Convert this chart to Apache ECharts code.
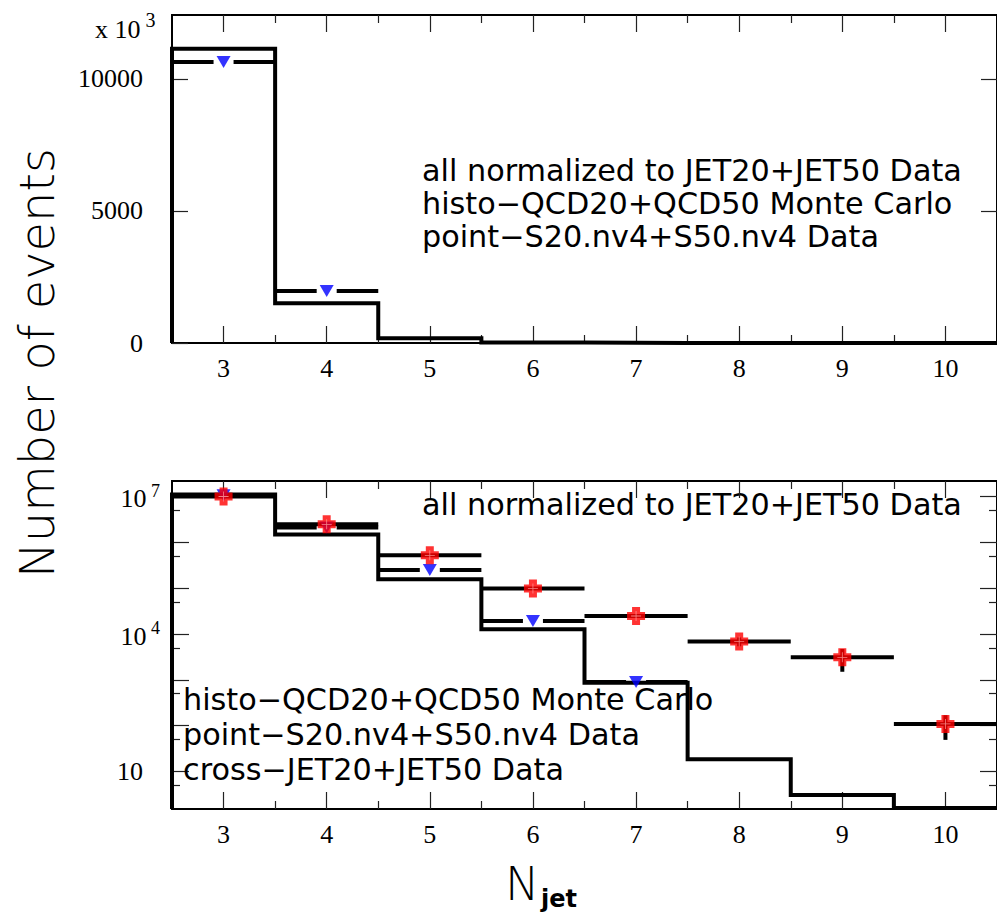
<!DOCTYPE html>
<html><head><meta charset="utf-8">
<script src="https://cdn.jsdelivr.net/npm/echarts@6/dist/echarts.min.js"></script>
<style>html,body{margin:0;padding:0;background:#fff}#c{width:997px;height:920px}</style>
</head><body><div id="c"></div>
<script>
// ---------------- data ----------------
const nJet = [3, 4, 5, 6, 7, 8, 9, 10];
const xTickLabels = ['3', '4', '5', '6', '7', '8', '9', '10'];
const halfTicks = [3.5, 4.5, 5.5, 6.5, 7.5, 8.5, 9.5];
// top panel (linear, in units of 10^3 events)
const mcTop  = [11150, 1505, 180, 15, 1, 0.02, 0.003, 0.001];
const s20Top = [10640, 1970, null, null, null, null, null, null];
const linTicks = [0, 5000, 10000];
// bottom panel (log scale)
const mcLog  = [1.1e7, 1.48e6, 1.56e5, 1.27e4, 865, 18.5, 3.07, 1.6];
const s20Log = [1.06e7, 2.1e6, 2.49e5, 1.92e4, 900, null, null, null];
const jetLog = [1.0e7, 2.47e6, 5.2e5, 9.9e4, 2.47e4, 6.9e3, 3.1e3, 109];
const jetErr = [3e4, 1.5e4, 7e3, 3e3, 1.5e3, 1.5e3, 1600, 60];
const logMajor = [10, 100, 1e3, 1e4, 1e5, 1e6, 1e7];
const logMinor = [5, 50, 500, 5e3, 5e4, 5e5, 5e6];
const logLabels = [10, 1e4, 1e7];
const legendTop = ['all normalized to JET20+JET50 Data', 'histo\u2212QCD20+QCD50 Monte Carlo', 'point\u2212S20.nv4+S50.nv4 Data'];
const legendBot1 = 'all normalized to JET20+JET50 Data';
const legendBot2 = ['histo\u2212QCD20+QCD50 Monte Carlo', 'point\u2212S20.nv4+S50.nv4 Data', 'cross\u2212JET20+JET50 Data'];

// ---------------- helpers ----------------
const SANS = "'DejaVu Sans'";
const SERIF = "'Liberation Serif'";
function fitSize(text, family, weight, target) {
  const ctx = document.createElement('canvas').getContext('2d');
  ctx.font = weight + ' 100px ' + family;
  return 100 * target / ctx.measureText(text).width;
}
const legSize = fitSize(legendTop[0], SANS, 'normal', 540);
const titleSize = fitSize('Number of events', SANS, 300, 430);

const X0 = 2.5, X1 = 10.5;
const LIN_MAX = 12424;
const LOG_MIN = 1.52, LOG_MAX = 2.18e7;
const tickStyle = {color: '#222', width: 1.2};
const axLine = {show: true, onZero: false, lineStyle: {color: '#000', width: 2}};
const LBL = 26;

function xAx(grid, pos, ticks, len, withLabels) {
  return {
    type: 'value', gridIndex: grid, position: pos, min: X0, max: X1,
    axisLine: axLine,
    axisTick: {show: true, inside: true, length: len, customValues: ticks, lineStyle: tickStyle},
    axisLabel: withLabels ? {show: true, customValues: nJet, margin: 12,
      formatter: v => xTickLabels[nJet.indexOf(v)],
      fontFamily: SERIF, fontSize: LBL, color: '#000'} : {show: false},
    splitLine: {show: false}
  };
}
const supRich = {
  b: {fontFamily: SERIF, fontSize: LBL, color: '#000', verticalAlign: 'bottom'},
  s: {fontFamily: SERIF, fontSize: 18, color: '#000', verticalAlign: 'bottom', padding: [0, 0, 12, 0]},
  t: {fontFamily: SERIF, fontSize: 20, color: '#000', verticalAlign: 'bottom', padding: [0, 0, 13, 0]},
  p: {fontFamily: SERIF, fontSize: LBL, color: '#000', verticalAlign: 'bottom', padding: [0, 17, 0, 0]}
};
function yAx(grid, pos, type, min, max, ticks, len, labelVals, fmt, margin) {
  const a = {
    type: type, gridIndex: grid, position: pos, min: min, max: max,
    axisLine: axLine,
    axisTick: {show: true, inside: true, length: len, customValues: ticks, lineStyle: tickStyle},
    axisLabel: labelVals ? {show: true, customValues: labelVals, margin: margin, formatter: fmt,
      fontFamily: SERIF, fontSize: LBL, color: '#000', rich: supRich} : {show: false},
    splitLine: {show: false}
  };
  if (type === 'log') a.logBase = 10;
  return a;
}

function stepData(vals, base) {
  const pts = [[nJet[0] - 0.5, base]];
  nJet.forEach((n, i) => pts.push([n - 0.5, vals[i]]));
  pts.push([nJet[nJet.length - 1] + 0.5, vals[vals.length - 1]]);
  return pts;
}
function pointData(vals, errs) {
  const out = [];
  nJet.forEach((n, i) => { if (vals[i] != null) out.push(errs ? [n, vals[i], errs[i]] : [n, vals[i]]); });
  return out;
}
function barsRender(gapPx, withErr) {
  return function (params, api) {
    const x = api.value(0), y = api.value(1);
    const c = api.coord([x, y]);
    const l = api.coord([x - 0.5, y]), r = api.coord([x + 0.5, y]);
    const style = {stroke: '#000', lineWidth: 4, lineCap: 'butt', fill: null};
    const ch = [];
    if (gapPx > 0) {
      ch.push({type: 'line', shape: {x1: l[0], y1: l[1], x2: c[0] - gapPx, y2: c[1]}, style: style});
      ch.push({type: 'line', shape: {x1: c[0] + gapPx, y1: c[1], x2: r[0], y2: r[1]}, style: style});
    } else {
      ch.push({type: 'line', shape: {x1: l[0], y1: l[1], x2: r[0], y2: r[1]}, style: style});
    }
    if (withErr) {
      const e = api.value(2);
      const lo = api.coord([x, Math.max(y - e, LOG_MIN)]), hi = api.coord([x, y + e]);
      ch.push({type: 'line', shape: {x1: lo[0], y1: lo[1], x2: hi[0], y2: hi[1]}, style: style});
    }
    return {type: 'group', children: ch};
  };
}
const stepStyle = {color: '#000', width: 4, cap: 'butt', join: 'miter'};
const TRI = {symbol: 'triangle', symbolRotate: 180, symbolSize: [14, 12], itemStyle: {color: '#0000ff'}};
const CROSS = 'path://M5,0H13V5H18V13H13V18H5V13H0V5H5Z';
const INNER = 'path://M0,4.6H10V5.4H0Z M4.6,0H5.4V10H4.6Z';

const logFmt = v => {
  const e = Math.round(Math.log10(v));
  return e === 1 ? '{p|10}' : '{b|10}{s| ' + e + '}';
};

const option = {
  animation: false,
  backgroundColor: '#fff',
  grid: [
    {left: 172, top: 15, width: 826, height: 328, show: false},
    {left: 172, top: 481, width: 826, height: 328, show: false}
  ],
  xAxis: [
    xAx(0, 'bottom', nJet, 17, true), xAx(0, 'bottom', halfTicks, 8, false),
    xAx(0, 'top', nJet, 17, false), xAx(0, 'top', halfTicks, 8, false),
    xAx(1, 'bottom', nJet, 17, true), xAx(1, 'bottom', halfTicks, 8, false),
    xAx(1, 'top', nJet, 17, false), xAx(1, 'top', halfTicks, 8, false)
  ],
  yAxis: [
    yAx(0, 'left', 'value', 0, LIN_MAX, linTicks, 16, linTicks, v => String(v), 29),
    yAx(0, 'right', 'value', 0, LIN_MAX, linTicks, 16, null),
    yAx(1, 'left', 'log', LOG_MIN, LOG_MAX, logMajor, 17, logLabels, logFmt, 12),
    yAx(1, 'left', 'log', LOG_MIN, LOG_MAX, logMinor, 8, null),
    yAx(1, 'right', 'log', LOG_MIN, LOG_MAX, logMajor, 17, null),
    yAx(1, 'right', 'log', LOG_MIN, LOG_MAX, logMinor, 8, null)
  ],
  series: [
    // top panel
    {type: 'line', xAxisIndex: 0, yAxisIndex: 0, step: 'end', symbol: 'none', clip: false,
      data: stepData(mcTop, 0), lineStyle: stepStyle, z: 3},
    {type: 'custom', xAxisIndex: 0, yAxisIndex: 0, data: pointData(s20Top), encode: {x: 0, y: 1},
      renderItem: barsRender(10, false), z: 4},
    Object.assign({type: 'scatter', xAxisIndex: 0, yAxisIndex: 0, data: pointData(s20Top), z: 5}, TRI),
    // bottom panel
    {type: 'line', xAxisIndex: 4, yAxisIndex: 2, step: 'end', symbol: 'none', clip: false,
      data: stepData(mcLog, LOG_MIN), lineStyle: stepStyle, z: 3},
    {type: 'custom', xAxisIndex: 4, yAxisIndex: 2, data: pointData(s20Log), encode: {x: 0, y: 1},
      renderItem: barsRender(10, false), z: 4},
    {type: 'custom', xAxisIndex: 4, yAxisIndex: 2, data: pointData(jetLog, jetErr), encode: {x: 0, y: 1},
      renderItem: barsRender(0, true), z: 4},
    Object.assign({type: 'scatter', xAxisIndex: 4, yAxisIndex: 2, data: pointData(s20Log), z: 5}, TRI),
    {type: 'scatter', xAxisIndex: 4, yAxisIndex: 2, data: pointData(jetLog), z: 6,
      symbol: CROSS, symbolSize: 18, itemStyle: {color: '#ff0000'}},
    {type: 'scatter', xAxisIndex: 4, yAxisIndex: 2, data: pointData(jetLog), z: 7, silent: true,
      symbol: INNER, symbolSize: 10, itemStyle: {color: '#ffa0a0'}}
  ],
  graphic: [
    {type: 'text', x: 95, y: 26, style: {text: '{b|x 10}{t| 3}', rich: supRich, textVerticalAlign: 'middle'}},
    ...legendTop.map((t, i) => ({type: 'text', x: 422, y: 170 + 33 * i,
      style: {text: t, fontFamily: SANS, fontSize: legSize, fill: '#000', textVerticalAlign: 'middle'}})),
    {type: 'text', x: 422, y: 504,
      style: {text: legendBot1, fontFamily: SANS, fontSize: legSize, fill: '#000', textVerticalAlign: 'middle'}},
    ...legendBot2.map((t, i) => ({type: 'text', x: 183, y: 699 + 35 * i,
      style: {text: t, fontFamily: SANS, fontSize: legSize, fill: '#000', textVerticalAlign: 'middle'}, z: 10})),
    {type: 'text', x: 37, y: 363, rotation: Math.PI / 2,
      style: {text: 'Number of events', fontFamily: SANS, fontWeight: 300, fontSize: titleSize, fill: '#000',
        textAlign: 'center', textVerticalAlign: 'middle'}},
    {type: 'text', x: 505, y: 884,
      style: {text: 'N', fontFamily: SANS, fontWeight: 300, fontSize: 46, fill: '#000', textVerticalAlign: 'middle'}},
    {type: 'text', x: 541, y: 899,
      style: {text: 'jet', fontFamily: SANS, fontWeight: 'bold', fontSize: 24, fill: '#000', textVerticalAlign: 'middle'}}
  ]
};
const chart = echarts.init(document.getElementById('c'), null, {renderer: 'svg'});
chart.setOption(option);
</script>
</body></html>
